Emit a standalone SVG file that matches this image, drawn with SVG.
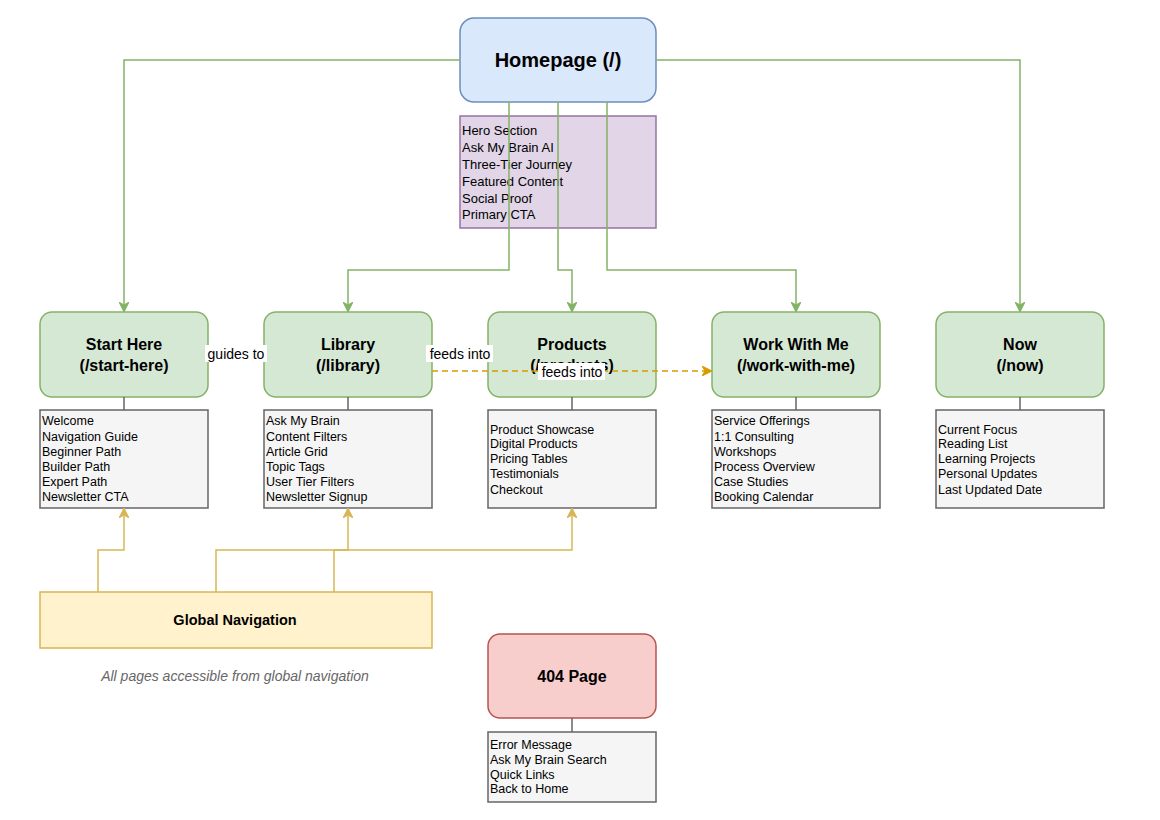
<svg xmlns="http://www.w3.org/2000/svg" width="1160" height="820" viewBox="0 0 1160 820">
<defs>
<style>
.page{fill:#d5e8d4;stroke:#82b366;stroke-width:1.5}
.list{fill:#f5f5f5;stroke:#666666;stroke-width:1.5}
.ttl{font-family:"Liberation Sans",Arial,sans-serif;font-weight:bold;font-size:16px;fill:#000;text-anchor:middle}
.li{font-family:"Liberation Sans",Arial,sans-serif;font-size:12.5px;fill:#000}
.lbl{font-family:"Liberation Sans",Arial,sans-serif;font-size:14px;fill:#000;text-anchor:middle}
.g{fill:none;stroke:#82b366;stroke-width:1.5}
.y{fill:none;stroke:#d6b656;stroke-width:1.5}
.stub{stroke:#666666;stroke-width:1.5}
</style>
<marker id="ag" viewBox="0 0 10 10" refX="9" refY="5" markerWidth="10" markerHeight="10" markerUnits="userSpaceOnUse" orient="auto"><path d="M0,0 L10,5 L0,10 L3,5 Z" fill="#82b366" stroke="#82b366"/></marker>
<marker id="ay" viewBox="0 0 10 10" refX="9" refY="5" markerWidth="10" markerHeight="10" markerUnits="userSpaceOnUse" orient="auto"><path d="M0,0 L10,5 L0,10 L3,5 Z" fill="#d6b656" stroke="#d6b656"/></marker>
<marker id="ao" viewBox="0 0 10 10" refX="9" refY="5" markerWidth="10" markerHeight="10" markerUnits="userSpaceOnUse" orient="auto"><path d="M0,0 L10,5 L0,10 L3,5 Z" fill="#d79b00" stroke="#d79b00"/></marker>
</defs>
<rect width="1160" height="820" fill="#ffffff"/>

<g id="homepage">
<rect x="460" y="18" width="196" height="84" rx="14" fill="#dae8fc" stroke="#6c8ebf" stroke-width="1.5"/>
<text x="558" y="67" class="ttl" style="font-size:20px">Homepage (/)</text>
</g>
<g id="homepage-sections">
<rect x="460" y="116" width="196" height="112" fill="#e1d5e7" stroke="#9673a6" stroke-width="1.5"/>
<text class="li" style="font-size:13px"><tspan x="462" y="135">Hero Section</tspan><tspan x="462" y="152">Ask My Brain AI</tspan><tspan x="462" y="169">Three-Tier Journey</tspan><tspan x="462" y="186">Featured Content</tspan><tspan x="462" y="203">Social Proof</tspan><tspan x="462" y="219">Primary CTA</tspan></text>
</g>

<g id="start-here">
<rect class="page" x="40" y="312" width="168" height="85" rx="12"/>
<text class="ttl"><tspan x="124" y="350">Start Here</tspan><tspan x="124" y="371">(/start-here)</tspan></text>
<line class="stub" x1="124" y1="397" x2="124" y2="410"/>
<rect class="list" x="40" y="410" width="168" height="98"/>
<text class="li"><tspan x="42" y="425">Welcome</tspan><tspan x="42" y="441">Navigation Guide</tspan><tspan x="42" y="456">Beginner Path</tspan><tspan x="42" y="471">Builder Path</tspan><tspan x="42" y="486">Expert Path</tspan><tspan x="42" y="501">Newsletter CTA</tspan></text>
</g>

<g id="library">
<rect class="page" x="264" y="312" width="168" height="85" rx="12"/>
<text class="ttl"><tspan x="348" y="350">Library</tspan><tspan x="348" y="371">(/library)</tspan></text>
<line class="stub" x1="348" y1="397" x2="348" y2="410"/>
<rect class="list" x="264" y="410" width="168" height="98"/>
<text class="li"><tspan x="266" y="425">Ask My Brain</tspan><tspan x="266" y="441">Content Filters</tspan><tspan x="266" y="456">Article Grid</tspan><tspan x="266" y="471">Topic Tags</tspan><tspan x="266" y="486">User Tier Filters</tspan><tspan x="266" y="501">Newsletter Signup</tspan></text>
</g>

<g id="products">
<rect class="page" x="488" y="312" width="168" height="85" rx="12"/>
<text class="ttl"><tspan x="572" y="350">Products</tspan><tspan x="572" y="371">(/products)</tspan></text>
<line class="stub" x1="572" y1="397" x2="572" y2="410"/>
<rect class="list" x="488" y="410" width="168" height="98"/>
<text class="li"><tspan x="490" y="434">Product Showcase</tspan><tspan x="490" y="448">Digital Products</tspan><tspan x="490" y="463">Pricing Tables</tspan><tspan x="490" y="478">Testimonials</tspan><tspan x="490" y="494">Checkout</tspan></text>
</g>

<g id="work-with-me">
<rect class="page" x="712" y="312" width="168" height="85" rx="12"/>
<text class="ttl"><tspan x="796" y="350">Work With Me</tspan><tspan x="796" y="371">(/work-with-me)</tspan></text>
<line class="stub" x1="796" y1="397" x2="796" y2="410"/>
<rect class="list" x="712" y="410" width="168" height="98"/>
<text class="li"><tspan x="714" y="425">Service Offerings</tspan><tspan x="714" y="441">1:1 Consulting</tspan><tspan x="714" y="456">Workshops</tspan><tspan x="714" y="471">Process Overview</tspan><tspan x="714" y="486">Case Studies</tspan><tspan x="714" y="501">Booking Calendar</tspan></text>
</g>

<g id="now">
<rect class="page" x="936" y="312" width="168" height="85" rx="12"/>
<text class="ttl"><tspan x="1020" y="350">Now</tspan><tspan x="1020" y="371">(/now)</tspan></text>
<line class="stub" x1="1020" y1="397" x2="1020" y2="410"/>
<rect class="list" x="936" y="410" width="168" height="98"/>
<text class="li"><tspan x="938" y="434">Current Focus</tspan><tspan x="938" y="448">Reading List</tspan><tspan x="938" y="463">Learning Projects</tspan><tspan x="938" y="478">Personal Updates</tspan><tspan x="938" y="494">Last Updated Date</tspan></text>
</g>

<g id="global-navigation">
<rect x="40" y="592" width="392" height="56" fill="#fff2cc" stroke="#d6b656" stroke-width="1.5"/>
<text x="235" y="625" class="ttl" style="font-size:14.5px">Global Navigation</text>
</g>
<g id="note">
<text x="235" y="681" font-family="'Liberation Sans',Arial,sans-serif" font-size="14" font-style="italic" fill="#666666" text-anchor="middle">All pages accessible from global navigation</text>
</g>

<g id="page-404">
<rect x="488" y="634" width="168" height="84" rx="12" fill="#f8cecc" stroke="#b85450" stroke-width="1.5"/>
<text x="572" y="682" class="ttl">404 Page</text>
<line class="stub" x1="572" y1="718" x2="572" y2="732"/>
<rect class="list" x="488" y="732" width="168" height="70"/>
<text class="li"><tspan x="490" y="749">Error Message</tspan><tspan x="490" y="764">Ask My Brain Search</tspan><tspan x="490" y="779">Quick Links</tspan><tspan x="490" y="793">Back to Home</tspan></text>
</g>

<g id="connectors">
<path class="g" d="M460,60 H124 V311" marker-end="url(#ag)"/>
<path class="g" d="M656,60 H1020 V311" marker-end="url(#ag)"/>
<path class="g" d="M509,102 V270 H348 V311" marker-end="url(#ag)"/>
<path class="g" d="M558,102 V270 H572 V311" marker-end="url(#ag)"/>
<path class="g" d="M607,102 V270 H796 V311" marker-end="url(#ag)"/>
<path class="y" d="M98,592 V550 H124 V509" marker-end="url(#ay)"/>
<path class="y" d="M216,592 V550 H572 V509" marker-end="url(#ay)"/>
<path class="y" d="M334,592 V550 H348 V509" marker-end="url(#ay)"/>
<path d="M432,371 H711" fill="none" stroke="#d79b00" stroke-width="1.5" stroke-dasharray="6,4" marker-end="url(#ao)"/>
<rect x="205" y="345" width="62" height="17" fill="#ffffff"/>
<text x="236" y="359" class="lbl">guides to</text>
<rect x="426" y="345" width="67" height="17" fill="#ffffff"/>
<text x="460" y="359" class="lbl">feeds into</text>
<rect x="538" y="363" width="67" height="17" fill="#ffffff"/>
<text x="572" y="377" class="lbl">feeds into</text>
</g>
</svg>
